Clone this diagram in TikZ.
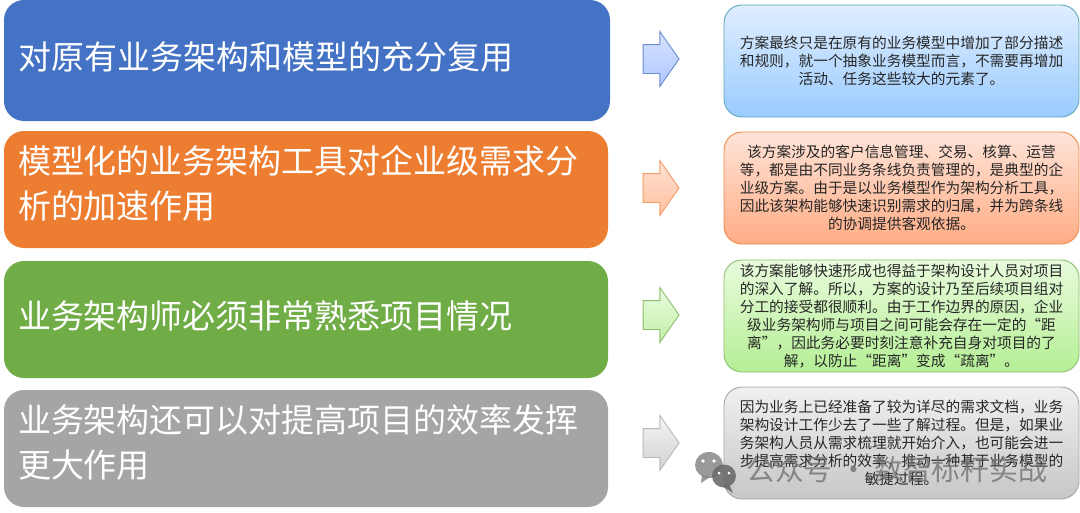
\documentclass[tikz,border=0pt]{standalone}
\usepackage{fontspec}
\setmainfont{Noto Sans CJK SC}
\usepackage{xcolor}
\usetikzlibrary{shapes.arrows}

\definecolor{bluemain}{HTML}{4472C4}
\definecolor{orangemain}{HTML}{ED7D31}
\definecolor{greenmain}{HTML}{70AD47}
\definecolor{graymain}{HTML}{A5A5A5}

\begin{document}
\begin{tikzpicture}[
    x=1pt, y=-1pt,
    topic/.style={rectangle, rounded corners=20pt, minimum width=604pt,
                  minimum height=117pt, inner xsep=14pt, inner ysep=0pt,
                  text width=576pt, align=left, text=white, draw=none,
                  font=\fontsize{33}{45}\selectfont},
    lift/.style={execute at end node={\endgraf\vspace{#1}}},
    note/.style={rectangle, rounded corners=18pt, line width=0.9pt,
                 minimum width=355pt, minimum height=112pt, inner sep=0pt,
                 text width=326pt, align=center, text=black!85,
                 font=\fontsize{14.7}{18}\selectfont},
    pointer/.style={single arrow, minimum height=36pt, inner xsep=0pt, inner ysep=14pt,
                    single arrow head extend=13pt, single arrow tip angle=110,
                    line width=0.9pt},
    bluetone/.style={draw=blue!20!cyan!40!gray!90!white, top color={rgb,255:red,224;green,238;blue,255}, bottom color={rgb,255:red,154;green,203;blue,255}},
    bluearrow/.style={draw=bluemain!80!white, top color={rgb,255:red,214;green,226;blue,255}, bottom color={rgb,255:red,176;green,200;blue,255}},
    orangetone/.style={draw=orangemain!90!white, top color={rgb,255:red,255;green,228;blue,216}, bottom color={rgb,255:red,255;green,172;blue,133}},
    orangearrow/.style={draw=orangemain!75!white, top color={rgb,255:red,255;green,226;blue,212}, bottom color={rgb,255:red,255;green,192;blue,160}},
    greentone/.style={draw=greenmain!80!white, top color={rgb,255:red,232;green,251;blue,220}, bottom color={rgb,255:red,181;green,239;blue,149}},
    greenarrow/.style={draw=greenmain!80!white, top color={rgb,255:red,236;green,251;blue,226}, bottom color={rgb,255:red,190;green,240;blue,165}},
    graytone/.style={draw=graymain, top color=black!6, bottom color=black!22},
    grayarrow/.style={draw=black!28, top color=black!4, bottom color=black!18},
    stamp/.style={text=black!55, opacity=0.8, font=\fontsize{28.8}{30}\selectfont},
]

\useasboundingbox (0,0) rectangle (1080,512);

\node [topic, lift=8pt, fill=bluemain, minimum width=606pt, minimum height=121pt] (reuse) at (307,60.5)
  {对原有业务架构和模型的充分复用};
\node [topic, lift=12pt, fill=orangemain] (speedup) at (306,189.5)
  {模型化的业务架构工具对企业级需求分\\析的加速作用};
\node [topic, lift=8pt, fill=greenmain] (familiar) at (306,319.5)
  {业务架构师必须非常熟悉项目情况};
\node [topic, lift=12pt, fill=graymain] (efficiency) at (306,448.5)
  {业务架构还可以对提高项目的效率发挥\\更大作用};

\node [pointer, bluearrow] (reusearrow) at (656,59) {};
\node [pointer, orangearrow] (speeduparrow) at (656,188) {};
\node [pointer, greenarrow] (familiararrow) at (656,315) {};
\node [pointer, grayarrow] (efficiencyarrow) at (656,443) {};

\node [note, bluetone] (reusenote) at (901.5,61)
  {方案最终只是在原有的业务模型中增加了部分描述\\
   和规则，就一个抽象业务模型而言，不需要再增加\\
   活动、任务这些较大的元素了。};
\node [note, orangetone] (speedupnote) at (901.5,188)
  {该方案涉及的客户信息管理、交易、核算、运营\\
   等，都是由不同业务条线负责管理的，是典型的企\\
   业级方案。由于是以业务模型作为架构分析工具，\\
   因此该架构能够快速识别需求的归属，并为跨条线\\
   的协调提供客观依据。};
\node [note, greentone] (familiarnote) at (901.5,316)
  {该方案能够快速形成也得益于架构设计人员对项目\\
   的深入了解。所以，方案的设计乃至后续项目组对\\
   分工的接受都很顺利。由于工作边界的原因，企业\\
   级业务架构师与项目之间可能会存在一定的“距\\
   离”，因此务必要时刻注意补充自身对项目的了\\
   解，以防止“距离”变成“疏离”。};
\node [note, graytone] (efficiencynote) at (901.5,443)
  {因为业务上已经准备了较为详尽的需求文档，业务\\
   架构设计工作少去了一些了解过程。但是，如果业\\
   务架构人员从需求梳理就开始介入，也可能会进一\\
   步提高需求分析的效率，推动一种基于业务模型的\\
   敏捷过程。};

\fill [black!50, opacity=0.8] (709,465) ellipse (14pt and 13pt);
\fill [black!50, opacity=0.8] (702,475) -- (701,483) -- (710,477) -- cycle;
\fill [black!58, opacity=0.9] (724,476) ellipse (12pt and 11.5pt);
\fill [black!58, opacity=0.9] (729,484) -- (733,493) -- (722,486) -- cycle;
\fill [white] (703,461) circle (1.8pt) (714,461) circle (1.8pt)
  (719,473) circle (1.5pt) (729,473) circle (1.5pt);
\node [stamp, anchor=west, inner sep=0pt] (stamptext) at (746,469) {公众号 · 数智标杆实战};

\end{tikzpicture}
\end{document}
